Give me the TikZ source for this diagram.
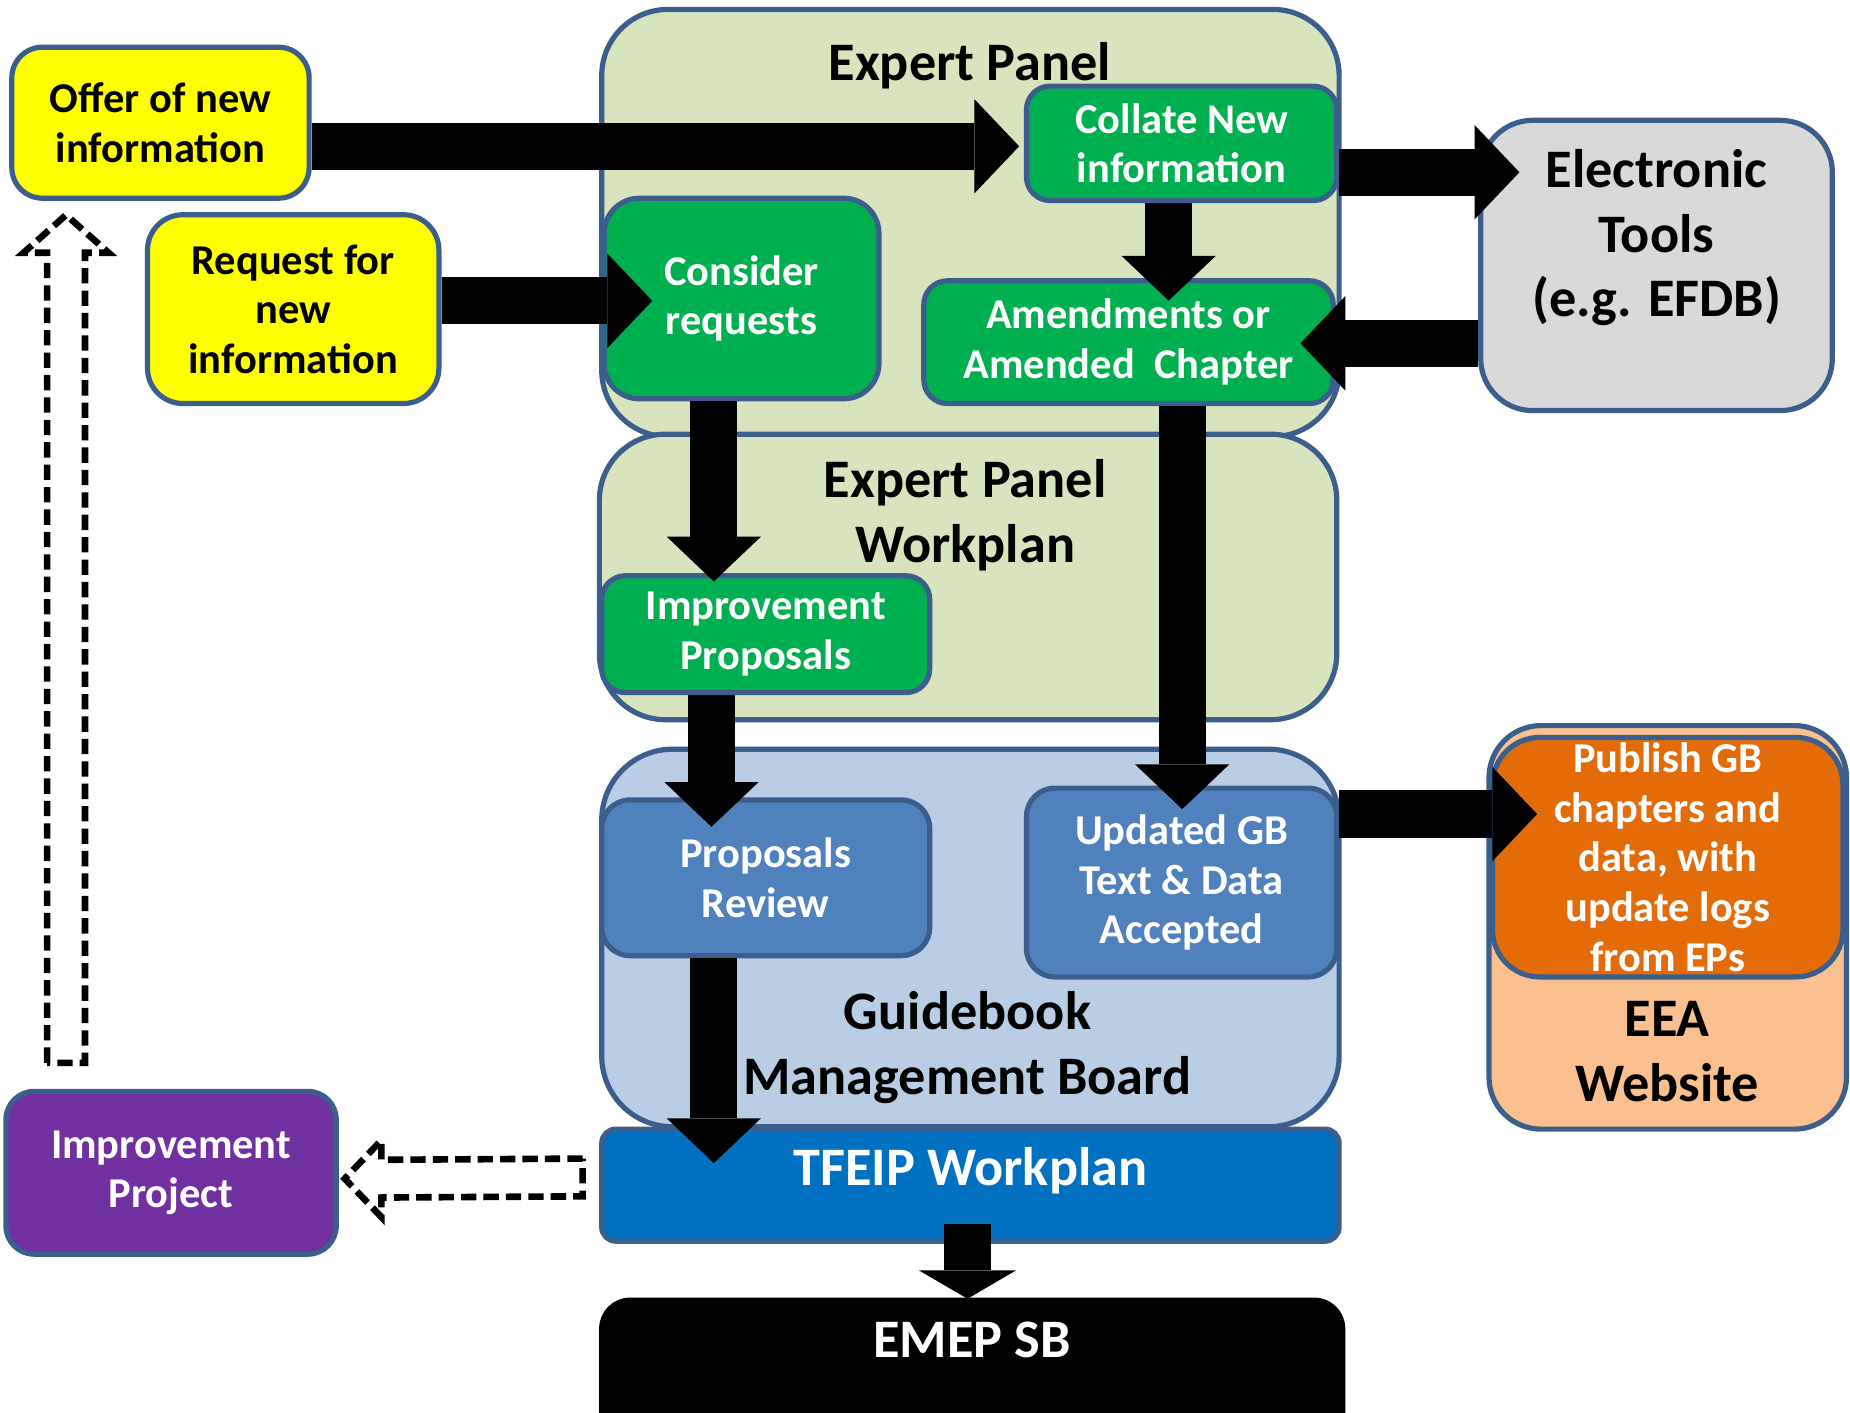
\documentclass[tikz,border=0pt]{standalone}
\usepackage{fontspec}
\setmainfont{Carlito}
\usetikzlibrary{arrows.meta,calc}
\definecolor{bdr}{HTML}{3B5E8C}
\definecolor{lgreen}{HTML}{D7E4BD}
\definecolor{cgreen}{HTML}{00B050}
\definecolor{cyellow}{HTML}{FFFF00}
\definecolor{cgray}{HTML}{D9D9D9}
\definecolor{lblue}{HTML}{B9CDE5}
\definecolor{mblue}{HTML}{4F81BD}
\definecolor{tblue}{HTML}{0070C0}
\definecolor{cpurple}{HTML}{7030A0}
\definecolor{corange}{HTML}{E36C09}
\definecolor{cpeach}{HTML}{FAC090}
\newcommand\fsm{\fontsize{18pt}{21pt}\selectfont\bfseries}
\newcommand\fbg{\fontsize{23pt}{27.5pt}\selectfont\bfseries}
\tikzset{
  box/.style={draw=bdr, line width=2.2pt, align=center, inner sep=0pt, font=\fsm},
  panel/.style={box, fill=lgreen, rounded corners=28pt},
  title/.style={align=center, inner sep=0pt, font=\fbg, text=black},
  barrow/.style={draw=black, line width=20pt, -{Triangle[length=19pt,width=40pt,line width=0pt]}},
  dasharrow/.style={draw=black, line width=2.8pt, dash pattern=on 6.5pt off 3pt, fill=white, line join=miter},
}
\begin{document}
\begin{tikzpicture}[x=0.5pt,y=-0.5pt]
\useasboundingbox (0,0) rectangle (1568,1197);
% panels
\node[panel, minimum width=312.5pt, minimum height=181pt] (ep) at (822.5,189) {};
\node[panel, minimum width=312.5pt, minimum height=121pt] (wp) at (820.5,489) {};
\node[panel, fill=lblue, minimum width=312.5pt, minimum height=160pt, rounded corners=30pt] (gmb) at (822.5,795) {};
\node[box, fill=tblue, text=white, font=\fbg, text height=8pt, text depth=8pt, minimum width=312.5pt, minimum height=47.5pt, rounded corners=6pt] (tfeip) at (822.5,1004.5) {TFEIP Workplan};
\node[box, fill=black, draw=black, text=white, font=\fbg, text height=10pt, text depth=30.5pt, minimum width=314pt, minimum height=69pt, rounded corners=12pt] (emep) at (824,1171) {EMEP SB};
\node[title] (eptitle) at (822,56) {Expert Panel};
\node[title] (wptitle) at (818,437) {Expert Panel\\Workplan};
\node[title] (gmbtitle) at (820,888) {Guidebook\\Management Board};
% boxes
\node[box, fill=cyellow, minimum width=126pt, minimum height=64pt, rounded corners=13pt] (offer) at (136,104) {Offer of new\\information};
\node[box, fill=cyellow, minimum width=123.5pt, minimum height=80pt, rounded corners=15pt] (request) at (248.5,262) {Request for\\new\\information};
\node[box, fill=cgreen, text=white, minimum width=116.5pt, minimum height=85pt, rounded corners=15pt] (consider) at (628.5,253) {Consider\\requests};
\node[box, fill=cgreen, text=white, minimum width=131.5pt, minimum height=48.5pt, rounded corners=10pt] (collate) at (1001.5,121.5) {Collate New\\information};
\node[box, fill=cgreen, text=white, minimum width=173.5pt, minimum height=52pt, rounded corners=10pt] (amend) at (956.5,290) {Amendments or\\Amended\ \ Chapter};
\node[box, fill=cgray, font=\fbg, minimum width=149pt, minimum height=123pt, rounded corners=22pt] (tools) at (1404,225) {Electronic\\Tools\\(e.g. EFDB)\\\mbox{}};
\node[box, fill=cgreen, text=white, minimum width=139pt, minimum height=49.5pt, rounded corners=10pt] (improp) at (649,537.5) {Improvement\\Proposals};
\node[box, fill=mblue, text=white, minimum width=139pt, minimum height=66pt, rounded corners=12pt] (preview) at (649,744) {Proposals\\Review};
\node[box, fill=mblue, text=white, minimum width=131.5pt, minimum height=80pt, rounded corners=12pt] (updated) at (1001.5,748) {Updated GB\\Text \& Data\\Accepted};
\node[box, fill=cpeach, minimum width=151.5pt, minimum height=171pt, rounded corners=22pt] (eea) at (1413.5,786) {};
\node[box, fill=corange, text=white, minimum width=148.5pt, minimum height=101.5pt, rounded corners=20pt] (publish) at (1413.5,726.5) {Publish GB\\chapters and\\data, with\\update logs\\from EPs};
\node[title] (eeatitle) at (1413,891) {EEA\\Website};
\node[box, fill=cpurple, text=white, minimum width=140pt, minimum height=69pt, rounded corners=12pt] (improj) at (145,994) {Improvement\\Project};
% block arrows
\draw[barrow] ($(offer.east)+(0,20)$) -- ($(collate.west)+(-4,2.5)$);
\draw[barrow] ($(request.east)+(0,-7)$) -- ($(consider.west)+(43,2)$);
\draw[barrow] ($(collate.south)+(-11,0)$) -- ($(amend.north)+(34,19)$);
\draw[barrow] ($(collate.east)+(0,24.5)$) -- ($(tools.west)+(35,-79)$);
\draw[barrow] ($(tools.west)+(0,66)$) -- ($(amend.east)+(-30,1)$);
\draw[barrow] ($(consider.south)+(-23.5,0)$) -- ($(improp.north)+(-44,7)$);
\draw[barrow] ($(improp.south)+(-46,0)$) -- ($(preview.north)+(-46,25)$);
\draw[barrow] ($(preview.south)+(-44,0)$) -- ($(tfeip.north)+(-217.5,31)$);
\draw[barrow] ($(amend.south)+(45.5,0)$) -- ($(updated.north)+(0.5,20)$);
\draw[barrow] ($(updated.east)+(0,-58)$) -- ($(publish.west)+(40,-36.5)$);
\draw[draw=black, line width=20pt, -{Triangle[length=12pt,width=41pt,line width=0pt]}] ($(tfeip.south)+(-2.5,-17)$) -- ($(emep.north)+(-4,1)$);
% dashed hollow arrows
\coordinate (hR) at ($(tfeip.west)+(-14,-6.5)$);
\coordinate (hT) at ($(improj.east)+(5,5)$);
\draw[dasharrow] ($(hR)+(0,-16)$) -- ($(hT)+(31,-16)$) -- ($(hT)+(31,-32.5)$) -- (hT) -- ($(hT)+(31,32.5)$) -- ($(hT)+(31,16)$) -- ($(hR)+(0,16)$) -- cycle;
\coordinate (vB) at ($(improj.north)+(-89,-22)$);
\coordinate (vT) at ($(offer.south)+(-80,12)$);
\draw[dasharrow] ($(vB)+(-16,0)$) -- ($(vT)+(-16,32)$) -- ($(vT)+(-36,32)$) -- (vT) -- ($(vT)+(36,32)$) -- ($(vT)+(16,32)$) -- ($(vB)+(16,0)$) -- cycle;
\end{tikzpicture}
\end{document}
